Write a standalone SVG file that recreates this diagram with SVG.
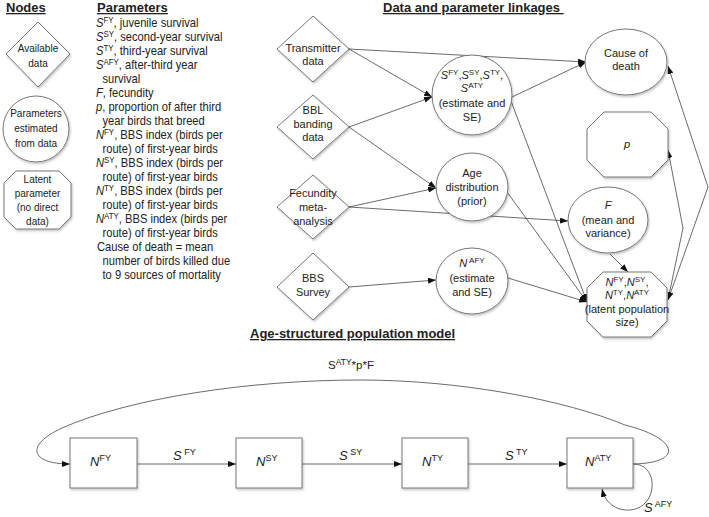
<svg xmlns="http://www.w3.org/2000/svg" width="709" height="517" viewBox="0 0 709 517">
<defs>
<filter id="sh" x="-10%" y="-10%" width="130%" height="130%">
<feDropShadow dx="1" dy="1.5" stdDeviation="1" flood-color="#000" flood-opacity="0.25"/>
</filter>
<marker id="ah" viewBox="0 0 10 10" refX="10" refY="5" markerWidth="8" markerHeight="6" preserveAspectRatio="none" markerUnits="userSpaceOnUse" orient="auto-start-reverse">
<path d="M0,0 L10,5 L0,10 z" fill="#111"/>
</marker>
</defs>
<style>
text{font-family:"Liberation Sans",Arial,sans-serif;fill:#222;}
.title{font-size:13px;font-weight:bold;text-decoration:underline;}
.par{font-size:12px;}
.lg{font-size:10px;text-anchor:middle;}
.nd{font-size:11px;text-anchor:middle;}
.shape{fill:#fff;stroke:#777;stroke-width:1;filter:url(#sh);}
.con{fill:none;stroke:#444;stroke-width:0.8;marker-end:url(#ah);}
.i{font-style:italic;}
</style>
<rect width="709" height="517" fill="#fff"/>

<!-- Titles -->
<text class="title" x="6" y="12">Nodes</text>
<text class="title" x="97" y="12">Parameters</text>
<text class="title" x="383" y="12" xml:space="preserve">Data and parameter linkages </text>
<text class="title" x="250" y="338">Age-structured population model</text>

<!-- Parameters list -->
<g id="parameters" class="par" transform="matrix(0.93 0 0 1 6.72 0)">
<text x="96" y="27.5"><tspan class="i">S</tspan><tspan font-size="8.5" dy="-4.5">FY</tspan><tspan dy="4.5">, juvenile survival</tspan></text>
<text x="96" y="41.5"><tspan class="i">S</tspan><tspan font-size="8.5" dy="-4.5">SY</tspan><tspan dy="4.5">, second-year survival</tspan></text>
<text x="96" y="55.5"><tspan class="i">S</tspan><tspan font-size="8.5" dy="-4.5">TY</tspan><tspan dy="4.5">, third-year survival</tspan></text>
<text x="96" y="69.5"><tspan class="i">S</tspan><tspan font-size="8.5" dy="-4.5">AFY</tspan><tspan dy="4.5">, after-third year</tspan></text>
<text x="103" y="83.5">survival</text>
<text x="96" y="97.5"><tspan class="i">F</tspan>, fecundity</text>
<text x="96" y="111.5"><tspan class="i">p</tspan>, proportion of after third</text>
<text x="103" y="125.5">year birds that breed</text>
<text x="96" y="139.5"><tspan class="i">N</tspan><tspan font-size="8.5" dy="-4.5">FY</tspan><tspan dy="4.5">, BBS index (birds per</tspan></text>
<text x="103" y="153.5">route) of first-year birds</text>
<text x="96" y="167.5"><tspan class="i">N</tspan><tspan font-size="8.5" dy="-4.5">SY</tspan><tspan dy="4.5">, BBS index (birds per</tspan></text>
<text x="103" y="181.5">route) of first-year birds</text>
<text x="96" y="195.5"><tspan class="i">N</tspan><tspan font-size="8.5" dy="-4.5">TY</tspan><tspan dy="4.5">, BBS index (birds per</tspan></text>
<text x="103" y="209.5">route) of first-year birds</text>
<text x="96" y="223.5"><tspan class="i">N</tspan><tspan font-size="8.5" dy="-4.5">ATY</tspan><tspan dy="4.5">, BBS index (birds per</tspan></text>
<text x="103" y="237.5">route) of first-year birds</text>
<text x="97" y="251.5">Cause of death = mean</text>
<text x="103" y="265.5">number of birds killed due</text>
<text x="103" y="279.5">to 9 sources of mortality</text>
</g>

<!-- Legend nodes -->
<g id="legend-available">
<polygon class="shape" points="38,22 70,54 38,87 6,54"/>
<text class="lg" x="38" y="52">Available</text>
<text class="lg" x="38" y="67">data</text>
</g>
<g id="legend-estimated">
<circle class="shape" cx="36" cy="129" r="33"/>
<text class="lg" x="36" y="116.5">Parameters</text>
<text class="lg" x="36" y="131.5">estimated</text>
<text class="lg" x="36" y="146.5">from data</text>
</g>
<g id="legend-latent">
<polygon class="shape" points="16,171 59,171 71,183 71,217 59,229 16,229 4,217 4,183"/>
<text class="lg" x="37.5" y="182.5">Latent</text>
<text class="lg" x="37.5" y="196.5">parameter</text>
<text class="lg" x="37.5" y="210.5">(no direct</text>
<text class="lg" x="37.5" y="224.5">data)</text>
</g>

<!-- Connectors -->
<g id="connectors">
<line class="con" x1="349" y1="49" x2="586" y2="62"/>
<line class="con" x1="349" y1="49" x2="432" y2="97"/>
<line class="con" x1="349" y1="127" x2="432" y2="97"/>
<line class="con" x1="349" y1="127" x2="436" y2="188"/>
<line class="con" x1="349" y1="207" x2="436" y2="188"/>
<line class="con" x1="349" y1="207" x2="568" y2="221"/>
<line class="con" x1="349" y1="287" x2="436" y2="280"/>
<line class="con" x1="512" y1="97" x2="586" y2="62"/>
<line class="con" x1="511" y1="101" x2="587" y2="302"/>
<line class="con" x1="507" y1="192" x2="587" y2="302"/>
<line class="con" x1="508" y1="278" x2="587" y2="302"/>
<line class="con" x1="610" y1="254" x2="628" y2="272"/>
<polyline class="con" points="668,300 683,228 668,150"/>
<polyline class="con" points="668,300 708,187 668,66" style="marker-start:url(#ah)"/>
<!-- bottom model -->
<line class="con" x1="137" y1="464" x2="236" y2="464"/>
<line class="con" x1="302" y1="464" x2="402" y2="464"/>
<line class="con" x1="468" y1="464" x2="567" y2="464"/>
<path class="con" d="M633,464 C685,463 678,438 625,425 C565,400 460,380 360,380 C250,380 130,398 62,428 C25,445 30,464 70,464"/>
<path class="con" d="M633,464 C660,464 658,508 630,510 C615,511 605,502 602,489"/>
</g>

<!-- Data nodes -->
<g id="transmitter">
<polygon class="shape" points="313,16 349,49 313,82 277,49"/>
<text class="nd" x="313" y="52">Transmitter</text>
<text class="nd" x="313" y="65">data</text>
</g>
<g id="bbl">
<polygon class="shape" points="313,95 349,127 313,159 277,127"/>
<text class="nd" x="313" y="114">BBL</text>
<text class="nd" x="313" y="128">banding</text>
<text class="nd" x="313" y="141">data</text>
</g>
<g id="fecundity">
<polygon class="shape" points="313,175 349,207 313,239 277,207"/>
<text class="nd" x="313" y="197">Fecundity</text>
<text class="nd" x="313" y="211">meta-</text>
<text class="nd" x="313" y="225">analysis</text>
</g>
<g id="bbs">
<polygon class="shape" points="313,253 349,287 313,320 277,287"/>
<text class="nd" x="313" y="282">BBS</text>
<text class="nd" x="313" y="296">Survey</text>
</g>

<!-- Estimated parameter nodes -->
<g id="survival">
<circle class="shape" cx="472" cy="95" r="40"/>
<text class="nd" x="472" y="79"><tspan class="i">S</tspan><tspan font-size="8" dy="-4">FY</tspan><tspan dy="4">,</tspan><tspan class="i">S</tspan><tspan font-size="8" dy="-4">SY</tspan><tspan dy="4">,</tspan><tspan class="i">S</tspan><tspan font-size="8" dy="-4">TY</tspan><tspan dy="4">,</tspan></text>
<text class="nd" x="472" y="92"><tspan class="i">S</tspan><tspan font-size="8" dy="-4">ATY</tspan></text>
<text class="nd" x="472" y="107">(estimate and</text>
<text class="nd" x="472" y="121">SE)</text>
</g>
<g id="agedist">
<ellipse class="shape" cx="472" cy="187" rx="36" ry="34"/>
<text class="nd" x="472" y="177">Age</text>
<text class="nd" x="472" y="191">distribution</text>
<text class="nd" x="472" y="205">(prior)</text>
</g>
<g id="nafy">
<ellipse class="shape" cx="472" cy="281" rx="36" ry="33"/>
<text class="nd" x="472" y="267"><tspan class="i">N</tspan><tspan font-size="8" dy="-4"> AFY</tspan></text>
<text class="nd" x="472" y="282">(estimate</text>
<text class="nd" x="472" y="296">and SE)</text>
</g>
<g id="cause">
<ellipse class="shape" cx="626" cy="62" rx="41" ry="33"/>
<text class="nd" x="626" y="57">Cause of</text>
<text class="nd" x="626" y="70">death</text>
</g>
<g id="p">
<polygon class="shape" points="604,112 651,112 668,129 668,160 651,177 604,177 587,160 587,129"/>
<text class="nd i" x="627" y="148">p</text>
</g>
<g id="fec">
<ellipse class="shape" cx="608" cy="220" rx="40" ry="33"/>
<text class="nd i" x="608" y="209">F</text>
<text class="nd" x="608" y="224">(mean and</text>
<text class="nd" x="608" y="237">variance)</text>
</g>
<g id="latent">
<polygon class="shape" points="603,272 651,272 667,288 667,321 651,337 603,337 587,321 587,288"/>
<text class="nd" x="627" y="286"><tspan class="i">N</tspan><tspan font-size="8" dy="-4">FY</tspan><tspan dy="4">,</tspan><tspan class="i">N</tspan><tspan font-size="8" dy="-4">SY</tspan><tspan dy="4">,</tspan></text>
<text class="nd" x="627" y="299"><tspan class="i">N</tspan><tspan font-size="8" dy="-4">TY</tspan><tspan dy="4">,</tspan><tspan class="i">N</tspan><tspan font-size="8" dy="-4">ATY</tspan></text>
<text class="nd" x="627" y="313" font-size="8.5">(latent population</text>
<text class="nd" x="627" y="326" font-size="8.5">size)</text>
</g>

<!-- Population model boxes -->
<g id="nfy">
<rect class="shape" x="70" y="438" width="67" height="50"/>
<text x="90" y="466" font-size="13"><tspan class="i">N</tspan><tspan font-size="9" dy="-5">FY</tspan></text>
</g>
<g id="nsy">
<rect class="shape" x="236" y="438" width="66" height="50"/>
<text x="256" y="466" font-size="13"><tspan class="i">N</tspan><tspan font-size="9" dy="-5">SY</tspan></text>
</g>
<g id="nty">
<rect class="shape" x="402" y="438" width="66" height="50"/>
<text x="422" y="466" font-size="13"><tspan class="i">N</tspan><tspan font-size="9" dy="-5">TY</tspan></text>
</g>
<g id="naty">
<rect class="shape" x="567" y="438" width="66" height="50"/>
<text x="585" y="466" font-size="13"><tspan class="i">N</tspan><tspan font-size="9" dy="-5">ATY</tspan></text>
</g>

<!-- Edge labels -->
<g id="edge-labels" font-size="13">
<text x="173" y="460"><tspan class="i">S</tspan><tspan font-size="9" dy="-5"> FY</tspan></text>
<text x="339" y="460"><tspan class="i">S</tspan><tspan font-size="9" dy="-5"> SY</tspan></text>
<text x="505" y="460"><tspan class="i">S</tspan><tspan font-size="9" dy="-5"> TY</tspan></text>
<text x="644" y="512"><tspan class="i">S</tspan><tspan font-size="9" dy="-5"> AFY</tspan></text>
<text x="328" y="369" font-size="11.5">S<tspan font-size="8.5" dy="-4.5">ATY</tspan><tspan dy="4.5">*p*F</tspan></text>
</g>
</svg>
